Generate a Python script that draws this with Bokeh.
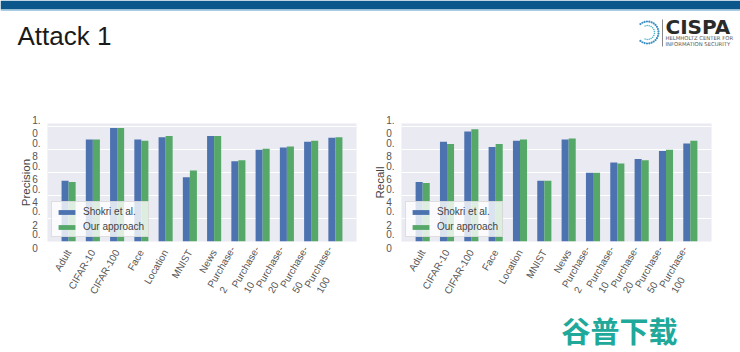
import numpy as np
from bokeh.plotting import figure
from bokeh.layouts import column, row
from bokeh.models import Range1d, FixedTicker, Legend, LegendItem
from bokeh.core.properties import value
from bokeh.embed import file_html
from bokeh.resources import INLINE

# ---------------- data ----------------
categories = ["Adult", "CIFAR-10", "CIFAR-100", "Face", "Location", "MNIST", "News",
              "Purchase-2", "Purchase-10", "Purchase-20", "Purchase-50", "Purchase-100"]
precision_shokri = [0.53, 0.89, 0.99, 0.89, 0.91, 0.56, 0.92, 0.70, 0.80, 0.82, 0.87, 0.905]
precision_ours = [0.52, 0.89, 0.99, 0.88, 0.92, 0.62, 0.92, 0.71, 0.81, 0.83, 0.88, 0.91]
recall_shokri = [0.52, 0.87, 0.96, 0.825, 0.88, 0.53, 0.89, 0.60, 0.69, 0.72, 0.79, 0.855]
recall_ours = [0.51, 0.85, 0.98, 0.85, 0.89, 0.53, 0.90, 0.60, 0.68, 0.71, 0.80, 0.88]
series_labels = ["Shokri et al.", "Our approach"]
y_ticks = [0, 0.2, 0.4, 0.6, 0.8, 1.0]
y_tick_labels = ["0.0", "0.2", "0.4", "0.6", "0.8", "1.0"]

BLUE = "#4c72b0"
GREEN = "#55a868"
BG = "#eaeaf2"
FONT = "Liberation Sans"
NBSP = "\u00a0"

# approximate Liberation Sans advance widths (em) used to left-align wrapped lines
_W = {"P": .667, "u": .556, "r": .333, "c": .5, "h": .556, "a": .556, "s": .5, "e": .556,
      "-": .333, ".": .278}


def _width(s):
    return sum(_W.get(ch, .556) for ch in s)


def wrap_left(first, second):
    """Two-line label whose second line appears left aligned under the first."""
    pad = max(0, int(round((_width(first) - _width(second)) / 0.278)))
    return first + "\n" + second + NBSP * pad


def x_label(c):
    if c.startswith("Purchase-"):
        return wrap_left("Purchase-", c[len("Purchase-"):])
    return c


def y_label(t):
    return wrap_left(t[:2], t[2:])


def make_chart(ylabel, s1, s2, left_border, right_border):
    n = len(categories)
    xs = np.arange(n)
    p = figure(width=370, height=205,
               x_range=Range1d(-0.87, n - 1 + 0.87), y_range=Range1d(0, 1.03),
               output_backend="svg", toolbar_location=None,
               min_border_left=left_border, min_border_right=right_border,
               min_border_top=23, min_border_bottom=58)
    p.background_fill_color = BG
    p.border_fill_color = "white"
    p.outline_line_color = None
    r1 = p.vbar(x=xs - 0.145, top=s1, width=0.29, fill_color=BLUE, line_color=None)
    r2 = p.vbar(x=xs + 0.145, top=s2, width=0.29, fill_color=GREEN, line_color=None)

    p.xgrid.visible = False
    p.ygrid.grid_line_color = "white"
    p.ygrid.grid_line_width = 1
    p.ygrid.ticker = FixedTicker(ticks=y_ticks)

    p.xaxis.ticker = FixedTicker(ticks=list(range(n)))
    p.xaxis.major_label_overrides = {i: x_label(c) for i, c in enumerate(categories)}
    p.xaxis.major_label_orientation = np.pi / 3
    p.yaxis.ticker = FixedTicker(ticks=y_ticks)
    p.yaxis.major_label_overrides = {t: y_label(l) for t, l in zip(y_ticks, y_tick_labels)}
    for ax in (p.xaxis, p.yaxis):
        ax.axis_line_color = None
        ax.major_tick_line_color = None
        ax.minor_tick_line_color = None
        ax.major_label_text_font = FONT
        ax.major_label_text_font_size = "10px"
        ax.major_label_text_color = "#555555"
    p.xaxis.major_label_standoff = 3
    p.yaxis.major_label_standoff = 1
    p.yaxis.axis_label = ylabel
    p.yaxis.axis_label_text_font = FONT
    p.yaxis.axis_label_text_font_size = "11.5px"
    p.yaxis.axis_label_text_font_style = "normal"
    p.yaxis.axis_label_text_color = "#444444"
    p.yaxis.axis_label_standoff = -3

    legend = Legend(items=[LegendItem(label=series_labels[0], renderers=[r1]),
                           LegendItem(label=series_labels[1], renderers=[r2])],
                    location="bottom_left")
    legend.label_text_font = FONT
    legend.label_text_font_size = "10px"
    legend.label_text_color = "#444444"
    legend.glyph_width = 21
    legend.glyph_height = 6
    legend.label_height = 10
    legend.label_standoff = 6
    legend.spacing = 4
    legend.padding = 4
    legend.margin = 4
    legend.background_fill_color = "white"
    legend.background_fill_alpha = 0.8
    legend.border_line_color = "#cccccc"
    legend.border_line_alpha = 0.6
    p.add_layout(legend)
    return p


left = make_chart("Precision", precision_shokri, precision_ours, 47, 14)
right = make_chart("Recall", recall_shokri, recall_ours, 31, 29)

# ---------------- header ----------------
header = figure(width=740, height=100, x_range=Range1d(0, 740), y_range=Range1d(100, 0),
                output_backend="svg", toolbar_location=None,
                min_border=0)
header.axis.visible = False
header.grid.visible = False
header.outline_line_color = None
header.background_fill_color = "white"
header.quad(left=[0], right=[740], top=[0], bottom=[9], fill_color="#0b568a", line_color=None)
header.quad(left=[0], right=[740], top=[9], bottom=[10.5], fill_color="#a9cfe4", line_color=None)
header.text(x=[17], y=[35], text=["Attack 1"], text_font=value(FONT), text_font_size="26px",
            text_color="#1a1a1a", text_baseline="middle")
# logo
ang = np.linspace(np.radians(50), np.radians(310), 22)
header.scatter(x=647 - 11 * np.cos(ang), y=32 - 11 * np.sin(ang), size=2.2,
               fill_color="#3c8fc4", line_color=None)
ang2 = np.linspace(np.radians(70), np.radians(290), 14)
header.scatter(x=647 - 7 * np.cos(ang2), y=32 - 7 * np.sin(ang2), size=1.6,
               fill_color="#49b3c8", line_color=None)
header.segment(x0=[662], y0=[19], x1=[662], y1=[46], line_color="#888888", line_width=1)
header.text(x=[665], y=[26.5], text=["CISPA"], text_font=value("DejaVu Sans"), text_font_size="20px",
            text_font_style="bold", text_color="#2a2a2a", text_baseline="middle")
header.text(x=[665, 665], y=[37.5, 43], text=["HELMHOLTZ CENTER FOR", "INFORMATION SECURITY"],
            text_font=value("DejaVu Sans"), text_font_size="5.3px", text_color="#555555",
            text_baseline="middle")

# ---------------- footer ----------------
footer = figure(width=740, height=47, x_range=Range1d(0, 740), y_range=Range1d(47, 0),
                output_backend="svg", toolbar_location=None, min_border=0)
footer.axis.visible = False
footer.grid.visible = False
footer.outline_line_color = None
footer.text(x=[561], y=[24], text=["谷普下载"], text_font=value("Noto Sans CJK SC"),
            text_font_size="29px", text_font_style="bold", text_color="#20a99b",
            text_baseline="middle")

page = column(header, row(left, right, spacing=0), footer, spacing=0)
open("out.html", "w").write(file_html(page, INLINE))
